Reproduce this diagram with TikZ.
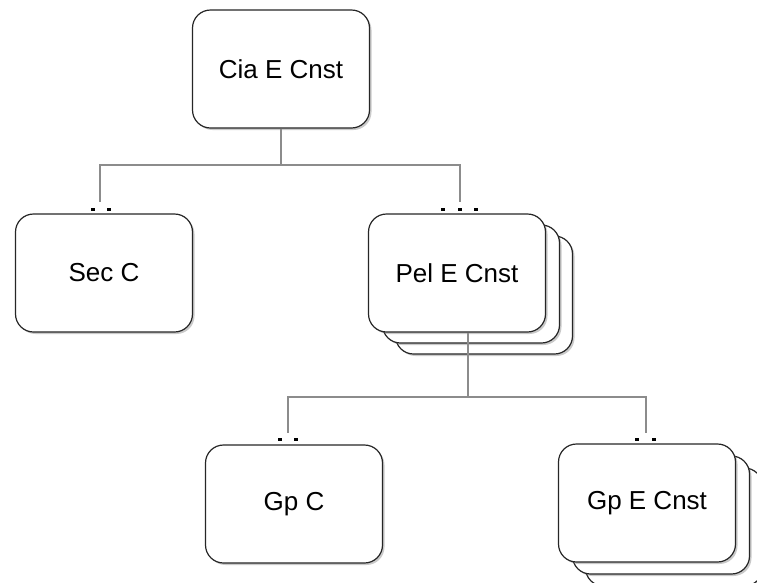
\documentclass[tikz,border=0pt]{standalone}
\usepackage{fontspec}
\setmainfont{Liberation Sans}
\usetikzlibrary{shadows}
\begin{document}
\begin{tikzpicture}[x=1pt,y=-1pt,
  orgbox/.style={draw=black!85, line width=1.2pt, fill=white, rounded corners=18pt,
    minimum width=177pt, minimum height=118pt, inner sep=0pt,
    font=\fontsize{26}{30}\selectfont,
    drop shadow={shadow xshift=2pt, shadow yshift=-2pt, opacity=0.35, fill=black!60}},
  conn/.style={draw=black!45, line width=1.4pt},
  dotmark/.style={fill=black}]
\useasboundingbox (0,0) rectangle (757,582);
\clip (0,0) rectangle (757,582);
% top
\node[orgbox] (top) at (281,69) {Cia E Cnst};
% level 2
\node[orgbox] (sec) at (104,273) {Sec C};
\node[orgbox] (pel3) at (484,295) {};
\node[orgbox] (pel2) at (471,284) {};
\node[orgbox] (pel) at (457,273) {Pel E Cnst};
% level 3
\node[orgbox] (gpc) at (294,504) {Gp C};
\node[orgbox] (gpe3) at (674,527) {};
\node[orgbox] (gpe2) at (661,515) {};
\node[orgbox] (gpe) at (647,503) {Gp E Cnst};
% connectors
\coordinate (j1) at (281,165);
\coordinate (e1) at (100,202);
\coordinate (e2) at (460,202);
\draw[conn] (top.south) -- (j1) -| (e1);
\draw[conn] (j1) -| (e2);
\coordinate (j2) at (468,397);
\coordinate (e3) at (288,433);
\coordinate (e4) at (646,433);
\draw[conn] (pel.south -| j2) -- (j2) -| (e3);
\draw[conn] (j2) -| (e4);
% dots
\foreach \x in {93,109} \fill[dotmark] (\x-1.6,207.5) rectangle ++(3.2,3.2);
\foreach \x in {443,460,476} \fill[dotmark] (\x-1.6,207.5) rectangle ++(3.2,3.2);
\foreach \x in {280,296} \fill[dotmark] (\x-1.6,437.5) rectangle ++(3.2,3.2);
\foreach \x in {637,654} \fill[dotmark] (\x-1.6,437.5) rectangle ++(3.2,3.2);
\end{tikzpicture}
\end{document}
